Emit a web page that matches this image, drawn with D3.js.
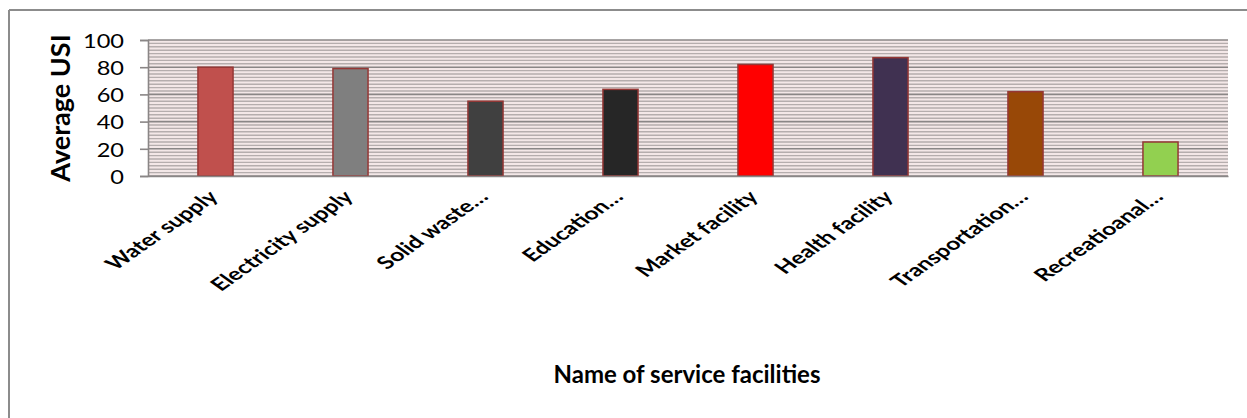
<!DOCTYPE html>
<html>
<head>
<meta charset="utf-8">
<script src="https://cdn.jsdelivr.net/npm/d3@7"></script>
<style>
  html, body { margin: 0; padding: 0; background: #fff; }
  svg { display: block; }
  text { font-family: Lato, "Open Sans", sans-serif; fill: #000; }
</style>
</head>
<body>
<svg id="chart" width="1247" height="418"></svg>
<script>
// Average USI per service facility
const categories = [
  "Water supply", "Electricity supply", "Solid waste\u2026", "Education\u2026",
  "Market facility", "Health facility", "Transportation\u2026", "Recreatioanal\u2026"
];
const values = [80, 79, 55, 63.7, 82, 87, 62, 25];
const barColors = ["#c0504d", "#7f7f7f", "#404040", "#262626", "#ff0000", "#403151", "#984807", "#92d050"];
const yTicks = [0, 20, 40, 60, 80, 100];

const svg = d3.select("#chart");
const W = 1247, H = 418;
const plot = { left: 148, right: 1228, top: 40, bottom: 176 };

// chart frame
svg.append("line").attr("x1", 9).attr("x2", W).attr("y1", 10).attr("y2", 10)
  .attr("stroke", "#8c8c8c").attr("stroke-width", 2);
svg.append("line").attr("x1", 9).attr("x2", 9).attr("y1", 10).attr("y2", H)
  .attr("stroke", "#8c8c8c").attr("stroke-width", 2);

const x = d3.scaleBand().domain(categories).range([plot.left, plot.right]).paddingInner(0.74).paddingOuter(0.37);
const y = d3.scaleLinear().domain([0, 100]).range([plot.bottom, plot.top]);

// plot area fill
svg.append("rect")
  .attr("x", plot.left).attr("y", plot.top)
  .attr("width", plot.right - plot.left).attr("height", plot.bottom - plot.top)
  .attr("fill", "#f3e7e7");

// fine horizontal hatching
const minor = d3.range(0, 100, 2.5).filter(v => v % 20 !== 0);
svg.append("g").selectAll("line").data(minor).join("line")
  .attr("x1", plot.left).attr("x2", plot.right)
  .attr("y1", d => y(d)).attr("y2", d => y(d))
  .attr("stroke", "#b5adad").attr("stroke-width", 1.4);

// major gridlines
svg.append("g").selectAll("line").data(yTicks).join("line")
  .attr("x1", plot.left).attr("x2", plot.right)
  .attr("y1", d => y(d)).attr("y2", d => y(d))
  .attr("stroke", "#8a8686").attr("stroke-width", 1.6);

// y axis
const yAxis = svg.append("g").attr("transform", `translate(${plot.left},0)`)
  .call(d3.axisLeft(y).tickValues(yTicks).tickSize(8));
yAxis.select(".domain").attr("stroke", "#8a8686").attr("stroke-width", 1.6);
yAxis.selectAll(".tick line").attr("stroke", "#8a8686").attr("stroke-width", 1.6);
yAxis.selectAll("text")
  .attr("x", 0).attr("dy", "0.36em")
  .attr("font-size", 20).attr("fill", "#000")
  .attr("font-family", "Lato, sans-serif")
  .attr("transform", "translate(-24,0) scale(1.18,1)");

// bars
svg.append("g").selectAll("rect").data(values).join("rect")
  .attr("x", (d, i) => x(categories[i]))
  .attr("y", d => y(d))
  .attr("width", x.bandwidth())
  .attr("height", d => y(0) - y(d))
  .attr("fill", (d, i) => barColors[i])
  .attr("stroke", "#953735").attr("stroke-width", 1.5);

// x axis with slanted category labels
const xAxis = svg.append("g").attr("transform", `translate(0,${plot.bottom})`)
  .call(d3.axisBottom(x).tickSize(0).tickPadding(0));
xAxis.select(".domain").attr("stroke", "#8a8686").attr("stroke-width", 1.6);
xAxis.selectAll("text")
  .attr("font-size", 17.5).attr("font-weight", "bold").attr("fill", "#000")
  .attr("font-family", "Lato, sans-serif")
  .attr("text-anchor", "end")
  .attr("dy", 0)
  .attr("transform", "translate(4,22) scale(1.42,1) rotate(-45)");

// axis titles
svg.append("text")
  .attr("transform", `translate(70,${(plot.top + plot.bottom) / 2}) rotate(-90)`)
  .attr("text-anchor", "middle").attr("font-size", 27).attr("font-weight", "bold")
  .text("Average USI");
svg.append("text")
  .attr("x", 687).attr("y", 383)
  .attr("text-anchor", "middle").attr("font-size", 24).attr("font-weight", "bold")
  .text("Name of service facilities");
</script>
</body>
</html>
